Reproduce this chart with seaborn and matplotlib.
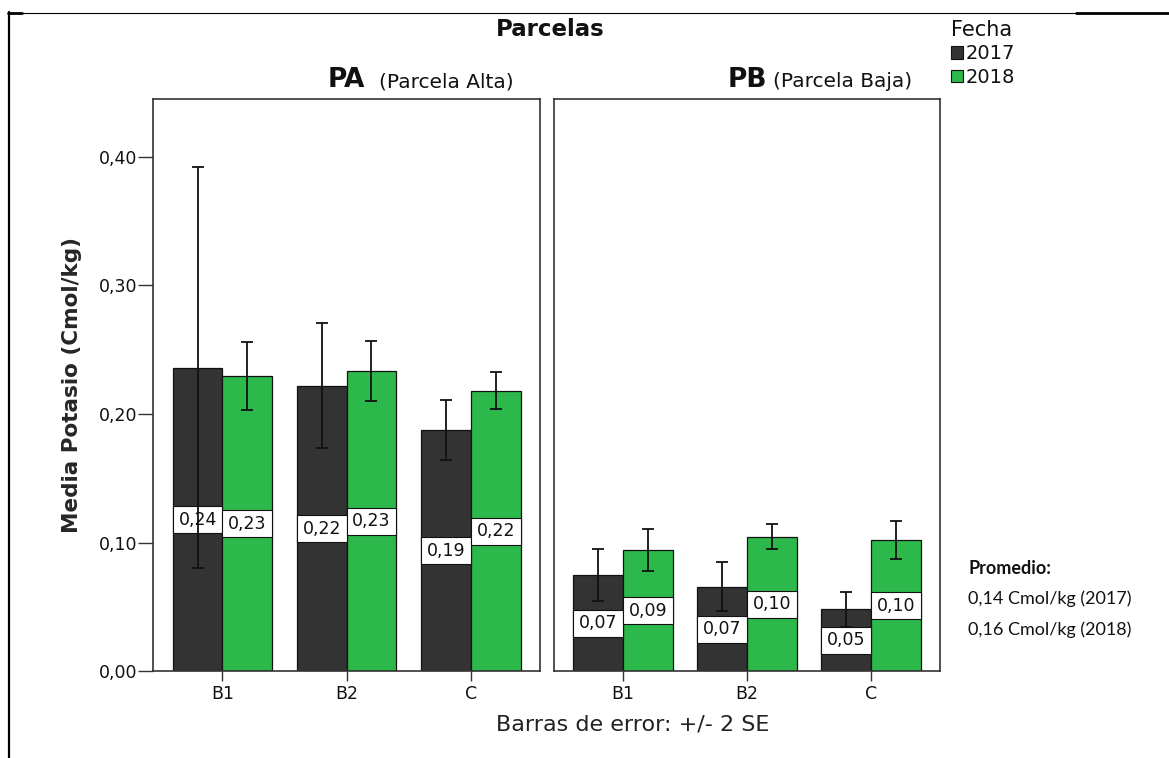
import matplotlib
matplotlib.use("Agg")
import matplotlib.pyplot as plt
from matplotlib.lines import Line2D
from matplotlib.patches import Patch, Rectangle
import numpy as np
import pandas as pd
import seaborn as sns

# ---- data -------------------------------------------------------------
zonas = ["B1", "B2", "C"]
fechas = ["2017", "2018"]
parcelas = ["PA", "PB"]

pa_2017 = [0.236, 0.222, 0.1876]
pa_2018 = [0.2294, 0.2334, 0.2181]
pb_2017 = [0.0749, 0.0658, 0.0483]
pb_2018 = [0.0943, 0.1047, 0.1021]

# half-width of the error bars (+/- 2 SE)
pa_err_2017 = [0.156, 0.0487, 0.023]
pa_err_2018 = [0.0265, 0.023, 0.0142]
pb_err_2017 = [0.020, 0.019, 0.0136]
pb_err_2018 = [0.0163, 0.0097, 0.0147]

yticks = [0.0, 0.1, 0.2, 0.3, 0.4]
colores = {"2017": "#333333", "2018": "#2db84b"}

rows = []
for parcela, medias, errores in [
    ("PA", {"2017": pa_2017, "2018": pa_2018}, {"2017": pa_err_2017, "2018": pa_err_2018}),
    ("PB", {"2017": pb_2017, "2018": pb_2018}, {"2017": pb_err_2017, "2018": pb_err_2018}),
]:
    for f in fechas:
        for z, m, e in zip(zonas, medias[f], errores[f]):
            rows.append({"parcela": parcela, "zona": z, "fecha": f, "media": m, "err": e})
df = pd.DataFrame(rows)

# ---- style ------------------------------------------------------------
sns.set_theme(style="white")
plt.rcParams["font.family"] = ["DejaVu Sans"]
plt.rcParams["text.color"] = "#111111"

W, H = 1169, 758
fig = plt.figure(figsize=(W / 100, H / 100), dpi=100)
fig.patch.set_facecolor("white")


def px_box(left, top, right, bottom):
    return [left / W, 1 - bottom / H, (right - left) / W, (bottom - top) / H]


ax1 = fig.add_axes(px_box(153.3, 99.3, 540, 671.4))
ax2 = fig.add_axes(px_box(554, 99.3, 940, 671.4))

for ax, parcela in zip([ax1, ax2], parcelas):
    sub = df[df["parcela"] == parcela]
    sns.barplot(
        data=sub, x="zona", y="media", hue="fecha",
        order=zonas, hue_order=fechas, palette=colores,
        errorbar=None, width=0.8, saturation=1,
        edgecolor="#111111", linewidth=0.9, legend=False, ax=ax, zorder=2,
    )
    for fecha, cont in zip(fechas, ax.containers):
        for zona, rect in zip(zonas, cont):
            fila = sub[(sub["fecha"] == fecha) & (sub["zona"] == zona)].iloc[0]
            cx = rect.get_x() + rect.get_width() / 2
            h = rect.get_height()
            # value box at half height
            bh = 0.021
            ax.add_patch(Rectangle((rect.get_x(), h / 2 - bh / 2), rect.get_width(), bh,
                                   facecolor="white", edgecolor="#111111", lw=0.8, zorder=3))
            ax.text(cx, h / 2, f"{fila['media']:.2f}".replace(".", ","),
                    ha="center", va="center", fontsize=12.5, zorder=4, color="#111111")
            ax.errorbar(cx, h, yerr=fila["err"], color="#111111", lw=1.3,
                        capsize=4.2, capthick=1.3, zorder=5)

    ax.set_xlim(-0.557, 2.557)
    ax.set_ylim(0, 0.4445)
    ax.set_xlabel("")
    ax.set_ylabel("")
    for s in ax.spines.values():
        s.set_visible(True)
        s.set_color("#333333")
        s.set_linewidth(1.2)
    ax.tick_params(axis="x", bottom=True, direction="out", length=7.2, width=1,
                   pad=2.5, labelsize=12.5, color="#333333", labelcolor="#111111")
    ax.set_title(parcela, fontsize=19, fontweight="bold", pad=8.6)

ax1.set_yticks(yticks)
ax1.set_yticklabels([f"{v:.2f}".replace(".", ",") for v in yticks])
ax1.tick_params(axis="y", left=True, direction="out", length=10.5, width=1,
                pad=1, labelsize=12.5, color="#333333", labelcolor="#111111")
ax2.set_yticks([])

ax1.set_ylabel("Media Potasio (Cmol/kg)", fontsize=15.5, fontweight="bold")
ax1.yaxis.set_label_coords(-0.184, 0.5)

# ---- titles and notes -------------------------------------------------
fig.text(550 / W, 1 - 30 / H, "Parcelas", ha="center", va="center",
         fontsize=16.5, fontweight="bold")
fig.text(379 / W, 1 - 87.3 / H, "(Parcela Alta)", ha="left", va="baseline", fontsize=14.5)
fig.text(773 / W, 1 - 87.3 / H, "(Parcela Baja)", ha="left", va="baseline", fontsize=14.5)

fig.text(633 / W, 1 - 725 / H, "Barras de error: +/- 2 SE", ha="center", va="center",
         fontsize=16, color="#222222")

fig.text(968 / W, 1 - 568 / H, "Promedio:", ha="left", va="center",
         fontsize=13, fontweight="bold", family="Lato")
fig.text(968 / W, 1 - 599 / H, "0,14 Cmol/kg (2017)", ha="left", va="center",
         fontsize=13, family="Lato")
fig.text(968 / W, 1 - 630 / H, "0,16 Cmol/kg (2018)", ha="left", va="center",
         fontsize=13, family="Lato")

# ---- legend -----------------------------------------------------------
handles = [Patch(facecolor=colores[f], edgecolor="#111111", lw=0.8) for f in fechas]
fig.legend(handles, fechas, title="Fecha", loc="upper left",
           bbox_to_anchor=(951 / W, 1 - 20 / H), frameon=False,
           fontsize=14, title_fontsize=15, handlelength=0.6, handleheight=0.6,
           handletextpad=0.15, labelspacing=0.22, borderpad=0, borderaxespad=0,
           alignment="left")

# ---- page frame -------------------------------------------------------
fig.add_artist(Line2D([9 / W, 9 / W], [0, 1 - 12 / H], color="black", lw=1.6))
fig.add_artist(Line2D([8 / W, 1076 / W], [1 - 12.5 / H] * 2, color="black", lw=0.8))
fig.add_artist(Line2D([1076 / W, 1], [1 - 13 / H] * 2, color="black", lw=2))
fig.add_artist(Line2D([8 / W, 22 / W], [1 - 13 / H] * 2, color="black", lw=2))

fig.savefig("out.png", dpi=100, facecolor="white")
